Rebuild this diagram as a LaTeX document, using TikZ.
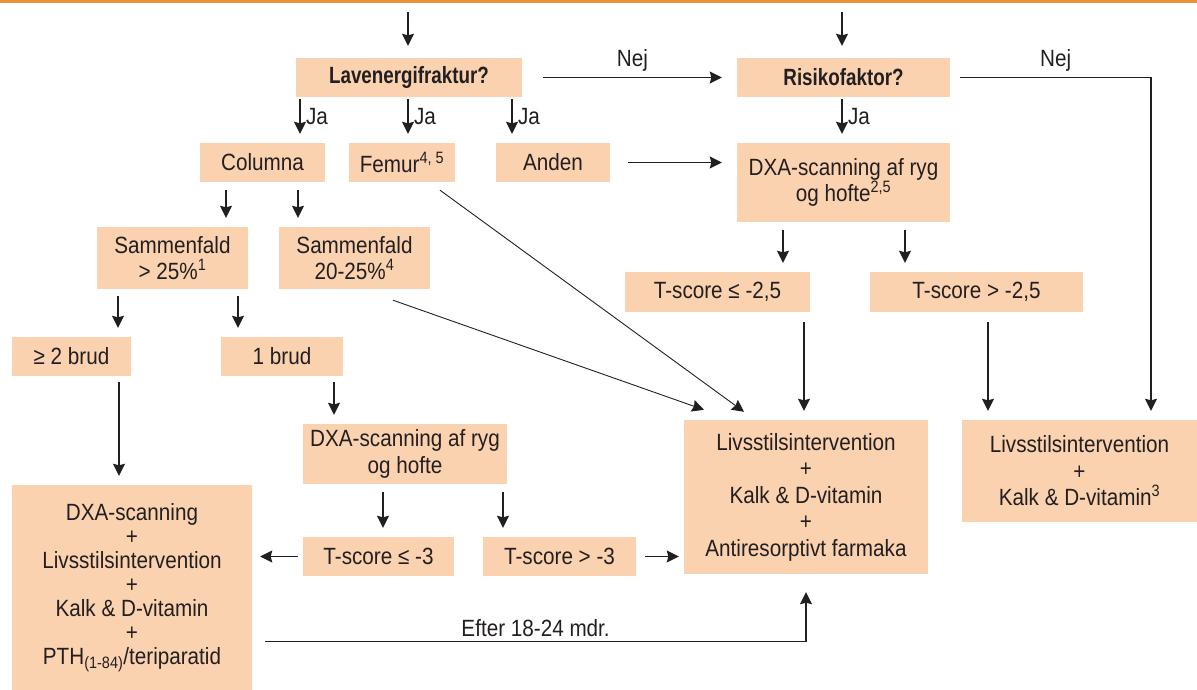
\documentclass[tikz,border=0pt]{standalone}
\usepackage{fontspec}
\setmainfont[FakeStretch=0.88, BoldFeatures={FakeStretch=0.8}]{Liberation Sans}
\usepackage{tikz}
\usetikzlibrary{arrows.meta,calc}
\definecolor{cBox}{HTML}{FAD2B0}
\definecolor{cInk}{HTML}{231F20}
\definecolor{cRule}{HTML}{E8923A}
\tikzset{
  box/.style   = {fill=cBox, text=cInk, align=center, inner sep=0pt,
                  font=\fontsize{23.5}{26.5}\selectfont},
  qbox/.style  = {box, font=\fontsize{23.5}{26}\selectfont\bfseries},
  flow/.style  = {-{Stealth[length=12pt, width=12pt, inset=1.5pt]},
                  draw=cInk, line width=1.4pt},
  slant/.style = {flow, line width=0.9pt},
  ans/.style   = {font=\fontsize{23.5}{26}\selectfont, text=cInk},
}

\begin{document}
\begin{tikzpicture}[x=1pt, y=-1pt]
  \useasboundingbox (0,0) rectangle (1197,690);
  \draw[cRule, line width=3pt] (0,1.5) -- (1197,1.5);
  % questions
  \node[qbox, minimum width=226pt, minimum height=39pt] (lav)  at (409,77.5)   {Lavenergifraktur?};
  \node[qbox, minimum width=213pt, minimum height=39pt] (risk) at (843.5,77.5) {Risikofaktor?};
  % fracture site
  \node[box, minimum width=125pt, minimum height=39pt] (col)  at (262.5,162.5) {Columna};
  \node[box, minimum width=106pt, minimum height=39pt] (fem)  at (402,162.5)   {Femur\textsuperscript{4, 5}};
  \node[box, minimum width=114pt, minimum height=39pt] (andn) at (553,162.5)   {Anden};
  \node[box, minimum width=213pt, minimum height=79pt] (dxa1) at (843.5,182.5)
    {DXA-scanning af ryg\\og hofte\textsuperscript{2,5}};
  \node[box, minimum width=185pt, minimum height=40pt] (ts1) at (717.5,292) {T-score ≤ -2,5};
  \node[box, minimum width=213pt, minimum height=40pt] (ts2) at (976.5,292) {T-score > -2,5};
  \node[box, minimum width=151pt, minimum height=62pt] (sam1) at (172.5,258) {Sammenfald\\> 25\%\textsuperscript{1}};
  \node[box, minimum width=151pt, minimum height=62pt] (sam2) at (354.5,258) {Sammenfald\\20-25\%\textsuperscript{4}};
  \node[box, minimum width=119pt, minimum height=39pt] (brud2) at (71.5,356.5) {≥ 2 brud};
  \node[box, minimum width=122pt, minimum height=39pt] (brud1) at (282,356.5)  {1 brud};
  \node[box, minimum width=204pt, minimum height=60pt] (dxa2) at (405,454) {DXA-scanning af ryg\\og hofte};
  \node[box, minimum width=151pt, minimum height=39pt] (tsc1) at (378.5,556.5) {T-score ≤ -3};
  \node[box, minimum width=153pt, minimum height=39pt] (tsc2) at (559.5,556.5) {T-score > -3};
  % treatments
  \node[box, minimum width=240pt, minimum height=206pt, font=\fontsize{23.5}{24}\selectfont]
    (lft) at (132,588) {DXA-scanning\\+\\Livsstilsintervention\\+\\Kalk \& D-vitamin\\+\\
    PTH\textsubscript{(1-84)}/teriparatid};
  \node[box, minimum width=244pt, minimum height=154pt] (res1) at (806,497)
    {Livsstilsintervention\\+\\Kalk \& D-vitamin\\+\\Antiresorptivt farmaka};
  \node[box, minimum width=235pt, minimum height=102pt] (res2) at (1079.5,471)
    {Livsstilsintervention\\+\\Kalk \& D-vitamin\textsuperscript{3}};
  % entry arrows
  \coordinate (inL) at (408,12);
  \coordinate (inR) at (842,12);
  \draw[flow] (inL) -- ($(lav.north)+(-1,-12)$);
  \draw[flow] (inR) -- ($(risk.north)+(-1.5,-12)$);
  \draw[flow] ($(lav.east)+(21,0)$) -- node[ans, above=2pt] {Nej} ($(risk.west)+(-15,0)$);
  \draw[flow] ($(risk.east)+(10,0)$) -| node[ans, pos=0.25, above=2pt] {Nej}
    ($(res2.north)+(71.5,-9)$);
  % Ja branches
  \draw[flow] ($(lav.south)+(-109,2)$) -- node[ans, right=2pt] {Ja} ($(col.north)+(37.5,-9)$);
  \draw[flow] ($(lav.south)+(-1,2)$) -- node[ans, right=2pt] {Ja} ($(fem.north)+(6,-9)$);
  \draw[flow] ($(lav.south)+(103,2)$) -- node[ans, right=2pt] {Ja} ($(andn.north)+(-41,-9)$);
  \draw[flow] ($(risk.south)+(-1.5,2)$) -- node[ans, right=2pt] {Ja} ($(dxa1.north)+(-1.5,-9)$);
  \draw[flow] ($(andn.east)+(18,0)$) -- ($(dxa1.west |- andn.east)+(-15,0)$);
  % columna
  \draw[flow] ($(col.south)+(-36.5,8)$) -- ($(sam1.north)+(53.5,-9)$);
  \draw[flow] ($(col.south)+(35.5,8)$) -- ($(sam2.north)+(-56.5,-9)$);
  \draw[flow] ($(sam1.south)+(-54.5,7)$) -- ($(brud2.north)+(46.5,-9)$);
  \draw[flow] ($(sam1.south)+(65.5,7)$) -- ($(brud1.north)+(-44,-9)$);
  \draw[flow] ($(brud2.south)+(47.5,6)$) -- ($(lft.north)+(-13,-9)$);
  \draw[flow] ($(brud1.south)+(52,6)$) -- ($(dxa2.north)+(-71,-9)$);
  \draw[flow] ($(dxa2.south)+(-22,8)$) -- ($(tsc1.north)+(4.5,-9)$);
  \draw[flow] ($(dxa2.south)+(98,8)$) -- ($(tsc2.north)+(-56.5,-9)$);
  \draw[flow] ($(tsc1.west)+(-5,0)$) -- ($(lft.east |- tsc1.west)+(8,0)$);
  \draw[flow] ($(tsc2.east)+(9,0)$) -- ($(res1.west |- tsc2.east)+(-5,0)$);
  % DXA right
  \draw[flow] ($(dxa1.south)+(-60.5,8)$) -- ($(ts1.north)+(65.5,-9)$);
  \draw[flow] ($(dxa1.south)+(61.5,8)$) -- ($(ts2.north)+(-71.5,-9)$);
  \draw[flow] ($(ts1.south)+(86.5,10)$) -- ($(res1.north)+(-2,-9)$);
  \draw[flow] ($(ts2.south)+(11.5,10)$) -- ($(res2.north)+(-91.5,-9)$);
  % slanted
  \draw[slant] ($(fem.south)+(38,8)$) -- ($(res1.north)+(-62,-8)$);
  \draw[slant] ($(sam2.south)+(38.5,11)$) -- ($(res1.north)+(-102,-10)$);
  \draw[flow] ($(lft.east)+(13,53.5)$) -| node[ans, pos=0.25, above=1pt] {Efter 18-24 mdr.}
    ($(res1.south)+(0,18)$);
\end{tikzpicture}
\end{document}
